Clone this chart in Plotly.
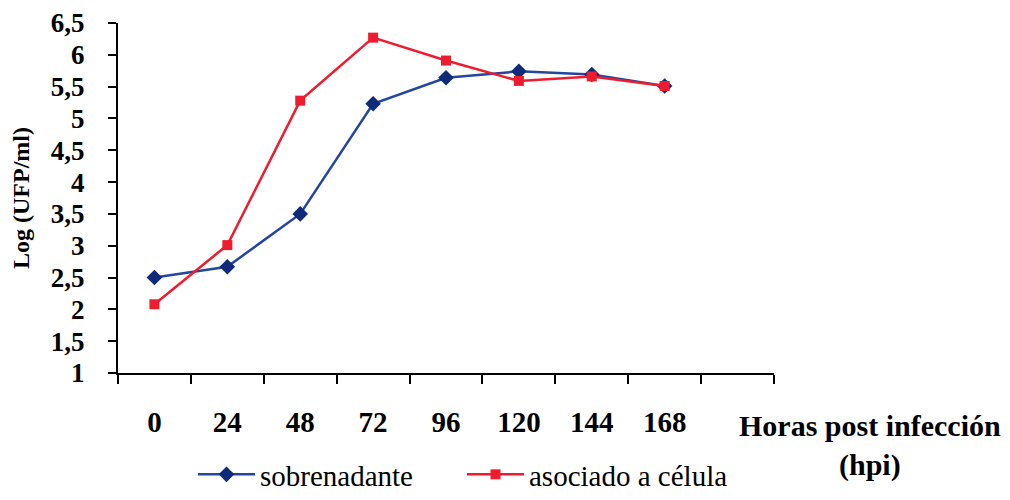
import plotly.graph_objects as go

hours = [0, 24, 48, 72, 96, 120, 144, 168]
hour_labels = ["0", "24", "48", "72", "96", "120", "144", "168"]
sobrenadante = [2.5, 2.67, 3.5, 5.23, 5.64, 5.74, 5.69, 5.51]
asociado = [2.08, 3.01, 5.28, 6.27, 5.91, 5.59, 5.66, 5.51]
y_ticks = [1, 1.5, 2, 2.5, 3, 3.5, 4, 4.5, 5, 5.5, 6, 6.5]

SERIF = "Liberation Serif"
BLUE_LINE = "#23479c"
BLUE_MARK = "#0f2a78"
RED = "#ee1c2e"

# page body has an 8px margin: figure is shrunk so it fits in the 1010x500 window
OFF = 8
W, H = 1010 - OFF, 500 - OFF

fig = go.Figure()
fig.add_trace(go.Scatter(
    x=hours, y=sobrenadante, mode="lines+markers", name="sobrenadante",
    line=dict(color=BLUE_LINE, width=2.5),
    marker=dict(symbol="diamond", size=12, color=BLUE_MARK),
))
fig.add_trace(go.Scatter(
    x=hours, y=asociado, mode="lines+markers", name="asociado a célula",
    line=dict(color=RED, width=2.5),
    marker=dict(symbol="square", size=10, color=RED),
))

fig.update_layout(
    width=W, height=H, autosize=False,
    margin=dict(l=118 - OFF, r=W - (774 - OFF), t=23 - OFF, b=H - (373 - OFF)),
    plot_bgcolor="white", paper_bgcolor="white",
    font=dict(family=SERIF, size=26, color="black"),
    showlegend=True,
    legend=dict(orientation="h", xref="paper", x=(193 - 118) / 656, xanchor="left",
                yref="container", y=-0.022, yanchor="bottom",
                font=dict(family=SERIF, size=29, color="black"), itemwidth=57,
                entrywidth=197, entrywidthmode="pixels",
                tracegroupgap=0, bgcolor="rgba(0,0,0,0)"),
    xaxis=dict(
        range=[-12, 204], showgrid=False, zeroline=False, automargin=False,
        showline=True, linecolor="black", linewidth=2,
        tickmode="array", tickvals=hours, ticktext=[f"<b>{t}</b>" for t in hour_labels],
        ticks="outside", ticklen=22, tickcolor="rgba(0,0,0,0)",
        tickfont=dict(family=SERIF, size=29, color="black"),
        minor=dict(ticks="outside", ticklen=9, tickwidth=2, tickcolor="black",
                   tick0=-12, dtick=24, showgrid=False),
    ),
    yaxis=dict(
        range=[1, 6.5], showgrid=False, zeroline=False, automargin=False,
        showline=True, linecolor="black", linewidth=2,
        tickmode="array", tickvals=y_ticks,
        ticktext=[f"<b>{('%g' % v).replace('.', ',')}</b>" for v in y_ticks],
        ticks="outside", ticklen=8, tickwidth=2, tickcolor="black",
        ticklabelstandoff=18,
        tickfont=dict(family=SERIF, size=27, color="black"),
        title=dict(text="<b>Log (UFP/ml)</b>", font=dict(family=SERIF, size=24), standoff=14),
    ),
    annotations=[
        dict(text="<b>Horas post infección</b><br><b>(hpi)</b>", xref="paper", yref="paper",
             x=(870 - 118) / 656, y=-(445 - 373) / 350, xanchor="center", yanchor="middle",
             showarrow=False, align="center",
             font=dict(family=SERIF, size=30, color="black")),
    ],
)

fig.write_html("out.html")
